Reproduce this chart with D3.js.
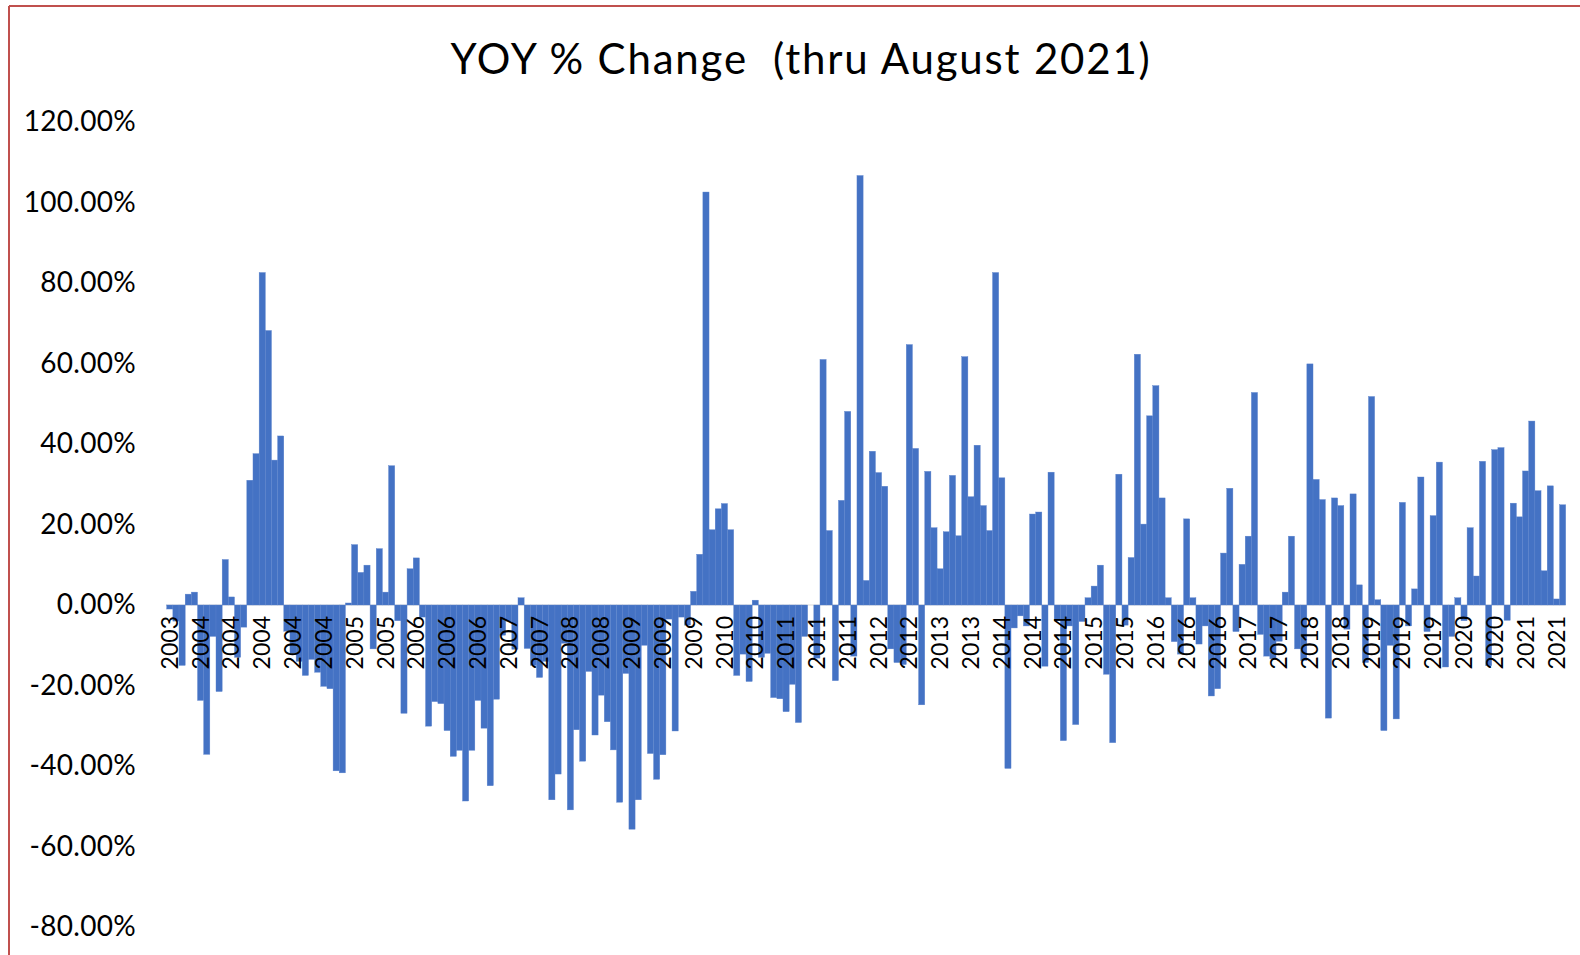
<!DOCTYPE html>
<html lang="en">
<head>
  <meta charset="UTF-8">
  <title>YOY % Change</title>
  <script src="https://cdn.jsdelivr.net/npm/d3@7"></script>
  <style>
    body { margin: 0; background: #fff; }
    svg { display: block; }
  </style>
</head>
<body>
  <svg width="1580" height="955"></svg>
  <script>
    // one bar per period, oldest first (values in %)
    var values = [
      -1, -4, -15, 2.7, 3.2, -23.7, -37.1, -7.8, -21.5, 11.3,
      2, -13, -5.5, 31, 37.6, 82.6, 68.2, 36, 42, -6.5,
      -12, -14, -17.5, -13.5, -16.7, -20.2, -20.8, -41.2, -41.7, 0.5,
      15, 8.1, 9.9, -10.9, 14, 3.2, 34.6, -3.9, -26.9, 9,
      11.7, -3, -30.1, -24, -24.5, -31.2, -37.6, -36.1, -48.7, -36.1,
      -23.7, -30.6, -44.9, -23.4, -7.5, -4, -11, 1.8, -10.8, -15,
      -18, -14, -48.4, -42, -9.5, -50.9, -31, -38.8, -16.5, -32.3,
      -22.4, -29, -36, -49, -17, -55.7, -48.4, -10, -36.9, -43.3,
      -37.2, -3.5, -31.3, -3, -5, 3.4, 12.6, 102.6, 18.7, 23.9,
      25.2, 18.7, -17.5, -12.2, -19, 1.2, -13, -12, -23, -23.3,
      -26.5, -19.7, -29.2, -7.8, 0, -13.2, 61, 18.5, -18.8, 26,
      48.1, -12.7, 106.7, 6.1, 38.2, 32.9, 29.5, -10.9, -14.3, -14.8,
      64.7, 38.9, -24.8, 33.2, 19.2, 9, 18.2, 32.2, 17.2, 61.7,
      26.9, 39.7, 24.7, 18.5, 82.6, 31.6, -40.6, -5.7, -2.7, -5.2,
      22.6, 23.1, -15.2, 33, -3.9, -33.7, -5.2, -29.7, -4.1, 1.8,
      4.7, 9.9, -17.2, -34.2, 32.5, -5, 11.8, 62.3, 20.1, 47,
      54.5, 26.6, 1.8, -9.1, -12.2, 21.4, 1.8, -9.7, -5.2, -22.6,
      -20.8, 12.9, 29, -6.6, 10.1, 17.1, 52.8, -7.3, -12.7, -13.4,
      -9, 3.2, 17.1, -10.9, -13.8, 59.9, 31.2, 26.2, -28.1, 26.6,
      24.7, -6, 27.6, 5, -14.3, 51.8, 1.3, -31.2, -10, -28.3,
      25.5, -5.2, 4, 31.8, -6.6, 22.2, 35.5, -15.4, -7.8, 1.8,
      -3.9, 19.2, 7.2, 35.7, -15.1, 38.6, 39.1, -3.8, 25.3, 21.9,
      33.3, 45.7, 28.4, 8.5, 29.6, 1.5, 24.9
    ];

    // year label shown under every 5th bar
    var tickLabels = [
      '2003', '2004', '2004', '2004', '2004', '2004', '2005', '2005', '2006', '2006',
      '2006', '2007', '2007', '2008', '2008', '2009', '2009', '2009', '2010', '2010',
      '2011', '2011', '2011', '2012', '2012', '2013', '2013', '2014', '2014', '2014',
      '2015', '2015', '2016', '2016', '2016', '2017', '2017', '2018', '2018', '2019',
      '2019', '2019', '2020', '2020', '2021', '2021'
    ];
    var tickEvery = 5;
    var yTicks = [120, 100, 80, 60, 40, 20, 0, -20, -40, -60, -80];

    var title = 'YOY % Change  (thru August 2021)';
    var font = 'Lato, "Open Sans", sans-serif';

    var svg = d3.select('svg');

    // frame lines at top and left
    svg.append('line')
      .attr('x1', 9).attr('x2', 1580).attr('y1', 6).attr('y2', 6)
      .attr('stroke', '#c0504d').attr('stroke-width', 2);
    svg.append('line')
      .attr('x1', 9).attr('x2', 9).attr('y1', 6).attr('y2', 955)
      .attr('stroke', '#c0504d').attr('stroke-width', 2);

    svg.append('text')
      .attr('x', 801)
      .attr('y', 74)
      .attr('text-anchor', 'middle')
      .attr('font-family', font)
      .attr('font-size', 42)
      .attr('letter-spacing', 1.8)
      .attr('fill', '#000')
      .style('white-space', 'pre')
      .text(title);

    var x = d3.scaleBand()
      .domain(d3.range(values.length))
      .range([166.7, 1565.7])
      .paddingInner(0);

    var y = d3.scaleLinear()
      .domain([-80, 120])
      .range([927, 122]);

    // y axis labels only, no line
    var yAxis = svg.append('g')
      .attr('transform', 'translate(136,0)')
      .call(d3.axisLeft(y)
        .tickValues(yTicks)
        .tickSize(0)
        .tickPadding(0)
        .tickFormat(function(d) { return d.toFixed(2) + '%'; }));
    yAxis.select('.domain').remove();
    yAxis.selectAll('text')
      .attr('font-family', font)
      .attr('font-size', 28)
      .attr('letter-spacing', 0.3)
      .attr('fill', '#000');

    // zero line
    svg.append('line')
      .attr('x1', 166).attr('x2', 1566)
      .attr('y1', y(0)).attr('y2', y(0))
      .attr('stroke', '#d9d9d9').attr('stroke-width', 1);

    svg.append('g')
      .selectAll('rect')
      .data(values)
      .join('rect')
      .attr('x', function(d, i) { return x(i); })
      .attr('width', x.bandwidth())
      .attr('y', function(d) { return y(Math.max(0, d)); })
      .attr('height', function(d) { return Math.abs(y(d) - y(0)); })
      .attr('fill', '#4472c4')
      .attr('stroke', '#5a82cc')
      .attr('stroke-width', 0.4);

    // category labels, rotated, just under the zero line
    var xAxis = svg.append('g')
      .attr('transform', 'translate(0,' + y(0) + ')')
      .call(d3.axisBottom(x)
        .tickValues(d3.range(0, values.length, tickEvery))
        .tickSize(0)
        .tickFormat(function(d) { return tickLabels[d / tickEvery]; }));
    xAxis.select('.domain').remove();
    xAxis.selectAll('text')
      .attr('font-family', font)
      .attr('font-size', 23)
      .attr('fill', '#000')
      .attr('transform', 'rotate(-90)')
      .attr('text-anchor', 'end')
      .attr('x', -11)
      .attr('y', 0)
      .attr('dy', '0.35em');
  </script>
</body>
</html>
